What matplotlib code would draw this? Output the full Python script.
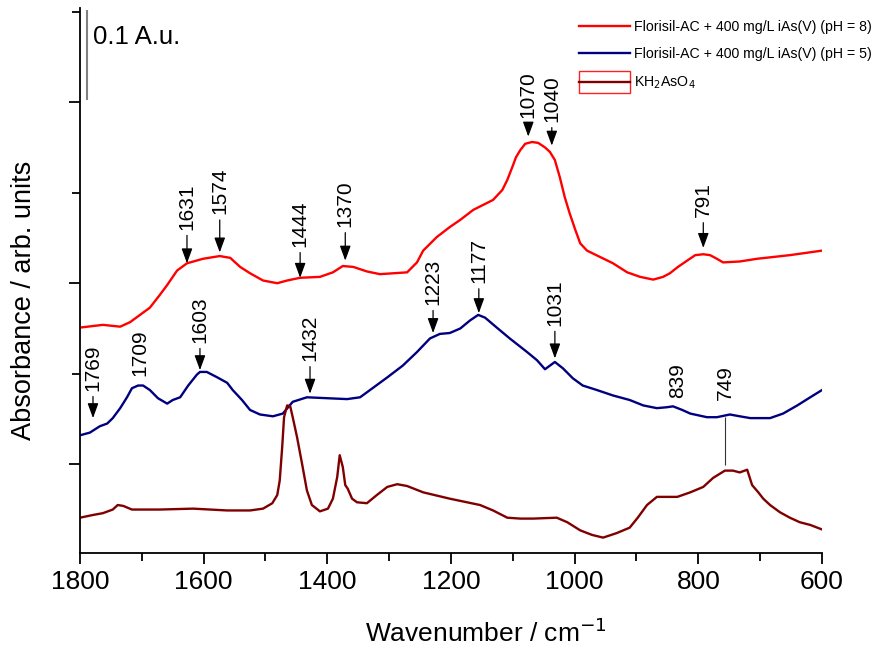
import matplotlib
matplotlib.use("Agg")
import matplotlib.pyplot as plt
from matplotlib.patches import Rectangle
from matplotlib.legend_handler import HandlerTuple, HandlerPatch
from matplotlib.ticker import MultipleLocator

plt.rcParams['font.family'] = ['Liberation Sans', 'DejaVu Sans']

# pH = 8 spectrum
wn_ph8 = [1800, 1763, 1735, 1719, 1703, 1687, 1671, 1659, 1643, 1627, 1601, 1574,
          1557, 1541, 1525, 1504, 1481, 1465, 1444, 1412, 1391, 1375, 1358, 1336,
          1315, 1271, 1255, 1245, 1223, 1202, 1185, 1164, 1132, 1117, 1109, 1101,
          1095, 1088, 1080, 1069, 1059, 1048, 1040, 1032, 1024, 1016, 1008, 999,
          991, 980, 959, 938, 915, 894, 873, 857, 846, 833, 818, 805, 792, 781,
          770, 760, 733, 705, 652, 600]
abs_ph8 = [0.151, 0.154, 0.152, 0.157, 0.165, 0.173, 0.187, 0.198, 0.214, 0.222,
           0.227, 0.230, 0.228, 0.218, 0.211, 0.203, 0.200, 0.203, 0.206, 0.207,
           0.212, 0.219, 0.218, 0.213, 0.210, 0.212, 0.223, 0.236, 0.251, 0.262,
           0.270, 0.281, 0.292, 0.303, 0.314, 0.328, 0.339, 0.347, 0.354, 0.356,
           0.355, 0.350, 0.345, 0.336, 0.317, 0.295, 0.277, 0.259, 0.244, 0.236,
           0.229, 0.222, 0.212, 0.207, 0.204, 0.207, 0.211, 0.218, 0.225, 0.231,
           0.232, 0.231, 0.227, 0.223, 0.224, 0.227, 0.231, 0.236]

# pH = 5 spectrum
wn_ph5 = [1800, 1784, 1768, 1756, 1747, 1735, 1724, 1716, 1706, 1698, 1687, 1674,
          1659, 1650, 1638, 1625, 1611, 1606, 1595, 1578, 1562, 1553, 1538, 1525,
          1509, 1488, 1472, 1456, 1433, 1401, 1368, 1347, 1331, 1303, 1278, 1255,
          1234, 1218, 1202, 1185, 1169, 1156, 1145, 1126, 1105, 1077, 1061, 1048,
          1040, 1032, 1019, 1003, 987, 964, 938, 911, 889, 867, 851, 841, 826, 813,
          786, 770, 749, 733, 716, 684, 663, 640, 619, 600]
abs_ph5 = [0.032, 0.035, 0.042, 0.045, 0.051, 0.062, 0.074, 0.084, 0.087, 0.087,
           0.082, 0.073, 0.067, 0.071, 0.074, 0.087, 0.099, 0.102, 0.102, 0.096,
           0.090, 0.082, 0.071, 0.060, 0.055, 0.053, 0.056, 0.069, 0.074, 0.073,
           0.072, 0.074, 0.082, 0.096, 0.109, 0.124, 0.139, 0.144, 0.145, 0.150,
           0.159, 0.165, 0.162, 0.151, 0.139, 0.124, 0.115, 0.105, 0.109, 0.113,
           0.106, 0.095, 0.087, 0.082, 0.076, 0.071, 0.065, 0.062, 0.063, 0.064,
           0.060, 0.056, 0.052, 0.052, 0.055, 0.053, 0.051, 0.051, 0.056, 0.065,
           0.074, 0.082]

# KH2AsO4 reference
wn_kh = [1800, 1779, 1763, 1747, 1739, 1730, 1716, 1671, 1617, 1562, 1525, 1504,
         1489, 1481, 1477, 1473, 1470, 1465, 1460, 1456, 1449, 1441, 1433, 1425,
         1412, 1399, 1391, 1384, 1380, 1375, 1371, 1367, 1360, 1352, 1336, 1320,
         1303, 1287, 1271, 1245, 1202, 1153, 1132, 1109, 1088, 1067, 1029, 1012,
         991, 972, 954, 932, 911, 898, 883, 867, 851, 834, 813, 792, 776, 757, 744,
         733, 721, 713, 703, 695, 684, 668, 652, 636, 619, 600]
abs_kh = [-0.059, -0.056, -0.054, -0.050, -0.045, -0.046, -0.050, -0.050, -0.049,
          -0.051, -0.051, -0.049, -0.043, -0.034, -0.018, 0.019, 0.052, 0.065, 0.064,
          0.052, 0.030, 0.001, -0.029, -0.045, -0.052, -0.049, -0.038, -0.014, 0.010,
          -0.003, -0.023, -0.027, -0.038, -0.042, -0.043, -0.034, -0.025, -0.022,
          -0.024, -0.031, -0.038, -0.045, -0.051, -0.059, -0.060, -0.060, -0.059,
          -0.064, -0.073, -0.078, -0.081, -0.076, -0.070, -0.059, -0.045, -0.036,
          -0.036, -0.036, -0.031, -0.025, -0.015, -0.007, -0.007, -0.009, -0.006,
          -0.023, -0.031, -0.038, -0.045, -0.053, -0.059, -0.064, -0.067, -0.072]

# peak labels: (text, x, arrow tip y, text base y)  tip None -> no arrow
peaks = [
    ("1631", 1627, 0.222, 0.259),
    ("1574", 1574, 0.234, 0.276),
    ("1444", 1444, 0.206, 0.240),
    ("1370", 1371, 0.225, 0.262),
    ("1070", 1075, 0.362, 0.382),
    ("1040", 1037, 0.352, 0.378),
    ("791", 792, 0.239, 0.273),
    ("1223", 1229, 0.145, 0.176),
    ("1177", 1155, 0.167, 0.200),
    ("1031", 1032, 0.117, 0.153),
    ("1603", 1606, 0.104, 0.134),
    ("1432", 1428, 0.078, 0.114),
    ("1769", 1779, 0.051, 0.081),
    ("1709", 1703, None, 0.097),
    ("839", 833, None, 0.073),
    ("749", 757, None, 0.071),
]

fig = plt.figure(figsize=(8.83, 6.51), dpi=100)
ax = fig.add_axes([80/883, 98/651, 742/883, 545/651])

l1, = ax.plot(wn_ph8, abs_ph8, color='#ff0000', lw=1.7)
l2, = ax.plot(wn_ph5, abs_ph5, color='#000080', lw=1.7)
l3, = ax.plot(wn_kh, abs_kh, color='#800000', lw=1.7)

for txt, x, tip, base in peaks:
    if tip is None:
        ax.text(x, base, txt, rotation=90, ha='center', va='bottom', fontsize=15)
    else:
        ax.annotate(txt, xy=(x, tip), xytext=(x, base), rotation=90,
                    ha='center', va='bottom', fontsize=15,
                    arrowprops=dict(arrowstyle='-|>,head_length=0.6,head_width=0.22',
                                    color='k', lw=0.9, shrinkA=2, shrinkB=0))

# line linking 749 bands
ax.vlines(757, -0.001, 0.052, color='#333333', lw=0.8)

# scale bar
ax.vlines(1789, 0.402, 0.502, color='#808080', lw=1.5)
ax.text(1779, 0.472, "0.1 A.u.", fontsize=18.5, va='center', ha='left')

ax.set_xlim(1800, 600)
ax.set_ylim(-0.098, 0.504)
ax.xaxis.set_major_locator(MultipleLocator(200))
ax.xaxis.set_minor_locator(MultipleLocator(100))
ax.yaxis.set_major_locator(MultipleLocator(0.2))
ax.yaxis.set_minor_locator(MultipleLocator(0.1))
ax.set_yticklabels([])
ax.tick_params(which='major', direction='out', length=8, width=1.3, labelsize=19)
ax.tick_params(which='minor', direction='out', length=6, width=1.3)
ax.tick_params(axis='x', pad=4)
for s in ['top', 'right']:
    ax.spines[s].set_visible(False)
for s in ['left', 'bottom']:
    ax.spines[s].set_linewidth(1.3)

ax.set_xlabel("Wavenumber / cm$^{-1}$", fontsize=19, va='center')
ax.xaxis.set_label_coords(0.547, -0.147)
ax.set_ylabel("Absorbance / arb. units", fontsize=19.5, va='center', ha='center')
ax.yaxis.set_label_coords(-0.0755, 0.464)


def boxed(legend, orig_handle, xdescent, ydescent, width, height, fontsize):
    return Rectangle((-xdescent, -ydescent - 0.6 * height), width, 2.2 * height,
                     facecolor='none', edgecolor='#ff2020', lw=1.0)


box = Rectangle((0, 0), 1, 1, facecolor='none', edgecolor='#ff2020', lw=1.0)
ax.legend([l1, l2, (box, l3)],
          ["Florisil-AC + 400 mg/L iAs(V) (pH = 8)",
           "Florisil-AC + 400 mg/L iAs(V) (pH = 5)",
           "KH$_2$AsO$_4$"],
          handler_map={tuple: HandlerTuple(ndivide=1, pad=0),
                       Rectangle: HandlerPatch(patch_func=boxed)},
          loc='upper right', bbox_to_anchor=(882/883, 0.985), bbox_transform=fig.transFigure,
          frameon=False, fontsize=10.2, handlelength=3.6, handletextpad=0.3,
          labelspacing=0.95, borderpad=0.2)

fig.savefig("out.png", dpi=100)
